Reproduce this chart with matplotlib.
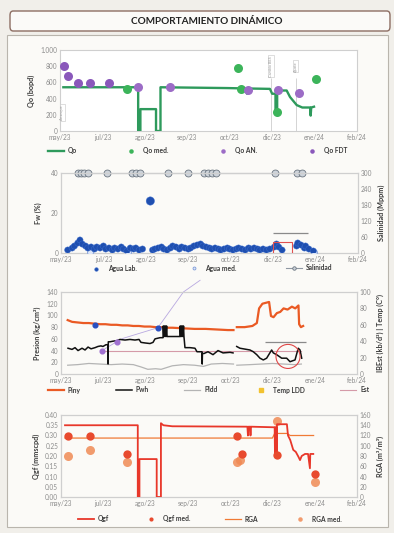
import matplotlib

matplotlib.use("Agg")
import matplotlib.pyplot as plt
from matplotlib.patches import FancyBboxPatch, Rectangle

plt.rcParams["font.family"] = ["Lato", "DejaVu Sans"]

nan = float("nan")

# eje x en dias desde el 28/may/23, una marca cada 38 dias
TICK_DAYS = [0, 38, 76, 114, 152, 190, 228, 266]
TICK_LABELS = ["may/23", "jul/23", "ago/23", "sep/23", "oct/23", "dic/23", "ene/24", "feb/24"]

# --- panel 1: petroleo
QO_DIAS = [3, 70, 70, 72, 72, 86, 86, 90, 90, 150, 167, 167.5, 168, 188, 190, 193, 193,
           194.5, 194.5, 196, 203, 206, 212, 217, 224, 224.5, 225, 227.5]
QO = [540, 540, 0, 0, 270, 270, 0, 0, 540, 530, 525, 460, 525, 520, 460, 460, 240,
      240, 500, 500, 500, 420, 320, 290, 290, 190, 290, 300]
QO_MED_DIAS = [60, 159, 162, 194, 229]
QO_MED = [515, 780, 520, 230, 640]
QO_AN_DIAS = [70, 98.5, 168, 195, 214]
QO_AN = [540, 540, 510, 510, 465]
QO_FDT_DIAS = [3.6, 7.2, 16, 27, 44]
QO_FDT = [800, 680, 590, 590, 590]
EVENTOS_DIAS = [2, 189, 211]
EVENTOS_TXT = ["Arranque", "Cambio BES", "Ajuste"]

# --- panel 2: agua y salinidad
AGUA_LAB_DIAS = [6, 10, 12, 15, 17, 19, 22, 24, 27, 30, 32, 35, 38, 40, 43, 46, 48, 51, 54, 56,
                 59, 62, 65, 67, 70, 73, 80, 82, 84, 87, 90, 92, 95, 98, 100, 103, 106, 108, 111, 114,
                 116, 119, 122, 125, 127, 130, 133, 135, 138, 141, 143, 146, 149, 151, 154, 157, 159,
                 162, 165, 168, 170, 173, 176, 178, 181, 184, 187, 191, 193, 195, 198, 211, 212, 215,
                 218, 219, 222, 226]
AGUA_LAB = [1.5, 2.5, 3.5, 5.0, 6.5, 4.5, 3.5, 2.5, 3.0, 2.0, 3.0, 2.5, 3.5, 2.0, 2.5, 1.5, 2.5, 2.0,
            3.0, 2.0, 1.0, 2.5, 2.0, 2.5, 1.5, 2.0, 26.0, 1.5, 2.0, 2.5, 3.0, 2.0, 1.5, 2.5, 3.5, 3.0,
            2.0, 3.0, 2.5, 2.0, 2.5, 3.5, 4.0, 4.5, 3.5, 3.0, 2.5, 2.0, 2.5, 2.0, 1.5, 2.0, 2.5, 2.0,
            1.5, 2.0, 2.5, 2.0, 1.5, 2.5, 2.0, 2.5, 2.0, 1.5, 2.0, 1.5, 2.0, 3.0, 4.5, 3.0, 1.5, 3.5,
            5.0, 4.0, 2.5, 3.5, 2.0, 1.0]
AGUA_MED_DIAS = [26, 60, 227]
AGUA_MED = [0.5, 0.5, 0.5]
SAL_DIAS = [15, 18, 21, 24, 41, 64, 67, 71, 96, 114, 128, 132, 135, 139, 192, 211, 216]
SAL = [300, 300, 300, 300, 300, 300, 300, 300, 300, 300, 300, 300, 300, 300, 300, 300, 300]

# --- panel 3: presiones
PINY_DIAS = [6, 10, 15, 20, 25, 30, 35, 40, 45, 50, 55, 60, 65, 70, 75, 80, 85, 90, 95, 100,
             110, 120, 130, 140, 150, 155, nan, 158, 165, 172, 176, 178, 181, 185, 187, 188.7, 191,
             194, 197, 200, 203.6, 207.5, 210.5, 213.4, 214, 215.6, 217.6]
PINY = [92, 89, 88, 87, 87, 86, 85, 85, 84, 84, 83, 83, 82, 82, 81, 81, 80, 80, 79, 79,
        78, 77, 77, 76, 75, 75, nan, 80, 80, 82, 87, 112, 120, 122, 123, 99, 97,
        104, 106, 112, 110, 115, 112, 117, 85, 80, 82]
PWH_DIAS = [6.3, 9.9, 12.6, 15.3, 18.9, 21.6, 24.3, 27, 30.6, 33.2, 35.9, 37.7, 40.4, 42.2, 42.3,
            42.5, 44, 46.7, 50.3, 53, 57.5, 62, 66.5, 70.1, 71.9, 75.5, 80, 82.7, 84.5, 89, 91.7,
            91.9, 92.4, 92.9, 93.4, 93.9, 94.4, 94.9, 95.3, 99.7, 103.3, 106.9, 107.1, 107.6, 108.1,
            108.6, 109.1, 109.6, 110.1, 110.5, 111.4, 115.9, 120.4, 122.2, 126.7, 126.9, 127.1,
            128.5, 132.1, 136.6, 141.1, 145.6, 151.9, 154.6, nan, 157.9, 160.8, 169.8, 172.8, 175.9,
            178.8, 181.8, 184.8, 189.3, 190.8, 193.8, 198.3, 202.8, 205.8, 210.3, 213.2, 214.8, 216.3]
PWH = [44, 42, 45, 40, 44, 41, 46, 43, 45, 47, 48, 47, 50, 50, 17, 55, 55, 56, 57, 59,
       58, 59, 58, 59, 54, 53, 52, 54, 60, 62, 62, 82, 64, 82, 64, 82, 64, 82, 64, 64,
       64, 64, 82, 64, 82, 64, 82, 64, 82, 64, 45, 45, 44, 38, 38, 17, 35, 35, 38, 33,
       40, 36, 37, 36, nan, 47, 44, 41, 38, 33, 27, 24, 27, 41, 36, 33, 27, 27, 21, 24,
       44, 41, 27]
PLDD_DIAS = [6, 15, 25, 35, 45, 55, 65, 72, 78, 85, 90, 95, 100, 110, 120, 128, 135, 145, 155, nan,
             158, 170, 180, 190, 200, 210, 216]
PLDD = [15, 16, 18, 17, 16, 17, 16, 12, 8, 9, 8, 11, 14, 16, 15, 13, 17, 18, 17, nan,
        15, 16, 17, 18, 17, 16, 17]
TEMP_DIAS = []
TEMP = []
EST_DIAS = [36, 216]
EST = [28, 28]
GUIA_DIAS = [36.8, 50, 56, 87, 110, 125]
GUIA = [40, 55, 61, 79, 140, 160]
MARCA_AZUL_DIAS = [30.6, 87]
MARCA_AZUL = [84, 79]
MARCA_LILA_DIAS = [36.8, 50]
MARCA_LILA = [40, 55]

# --- panel 4: gas
QGF_DIAS = [3.6, 69, 69, 70.5, 70.5, 86, 86, 89.8, 89.8, 92, 100, 167.5, 168, 168.5, 170, 170.3,
            170.6, 192, 192.3, 192.6, 193.5, 193.8, 194.1, 203, 204, 206, 208.7, 211, 213.3, 214.8,
            216.3, 219.3, 222, 223.7, 224, 226.7]
QGF = [0.35, 0.35, 0.0, 0.0, 0.185, 0.185, 0.0, 0.0, 0.36, 0.35, 0.345, 0.343, 0.30, 0.343, 0.343,
       0.30, 0.343, 0.34, 0.20, 0.34, 0.34, 0.20, 0.355, 0.355, 0.30, 0.278, 0.23, 0.22, 0.197, 0.18,
       0.20, 0.21, 0.21, 0.14, 0.21, 0.21]
RGA_DIAS = [3.6, 190, 192, 203, 206, 227]
RGA = [115, 115, 124, 124, 120, 120]
QGF_MED_DIAS = [6.3, 26, 59.3, 158.2, 162.6, 194.1, 228.2]
QGF_MED = [0.30, 0.30, 0.21, 0.30, 0.21, 0.205, 0.113]
RGA_MED_DIAS = [6.3, 26, 59.3, 158.2, 160.8, 194.1, 228.2]
RGA_MED = [80, 92, 69, 69, 72, 149, 30]

W, H = 394, 533
GRIS = "#8c8c8c"
LABEL_KW = dict(fontsize=5.2, fontweight="bold", color="#3a3a3a")


def caja(left, top, right, bottom):
    return [left / W, (H - bottom) / H, (right - left) / W, (bottom - top) / H]


def estilo(ax, twin=None):
    for a in [ax] + ([twin] if twin is not None else []):
        for s in a.spines.values():
            s.set_color("#cfcfcf")
            s.set_linewidth(0.8)
        a.tick_params(length=0, labelsize=4.7, colors=GRIS, pad=2)
    ax.set_facecolor("white")
    ax.set_xlim(0, 266)
    ax.set_xticks(TICK_DAYS, TICK_LABELS)


def leyenda(fig, axes, orden, y, x0, x1):
    found = {}
    for a in axes:
        h, l = a.get_legend_handles_labels()
        found.update(dict(zip(l, h)))
    fig.legend([found[k] for k in orden], orden, loc="center",
               bbox_to_anchor=(x0 / W, (H - y) / H - 0.01, (x1 - x0) / W, 0.02),
               mode="expand", ncol=len(orden), frameon=False, borderaxespad=0,
               prop={"size": 4.8, "weight": "bold"}, handlelength=2.4, handletextpad=0.6,
               markerscale=0.5, labelcolor="#3a3a3a")


fig = plt.figure(figsize=(W / 100, H / 100), dpi=100)
fig.patch.set_facecolor("#f1efea")
fig.patches.append(Rectangle((7 / W, 6 / H), 381 / W, 492 / H, transform=fig.transFigure,
                             facecolor="#fbfaf7", edgecolor="#b9b5ad", linewidth=0.8, zorder=-5))
fig.patches.append(FancyBboxPatch((10 / W, (H - 31) / H), 380 / W, 20 / H,
                                  boxstyle="round,pad=0,rounding_size=0.008",
                                  transform=fig.transFigure, facecolor="#fbfaf8",
                                  edgecolor="#8d6e63", linewidth=1.0, zorder=-5))
fig.text(207 / W, (H - 21) / H, "COMPORTAMIENTO DINÁMICO", ha="center", va="center",
         fontsize=7.2, fontweight="bold", color="#222222")

# panel 1
ax1 = fig.add_axes(caja(60, 50, 357, 131))
estilo(ax1)
ax1.plot(QO_DIAS, QO, color="#2e9a5c", lw=1.7, label="Qo", zorder=3)
ax1.plot(QO_MED_DIAS, QO_MED, "o", color="#3cb45a", ms=6.5, mec="none", label="Qo med.", zorder=4)
ax1.plot(QO_AN_DIAS, QO_AN, "o", color="#9c6cc6", ms=6.5, mec="none", label="Qo AN.", zorder=4)
ax1.plot(QO_FDT_DIAS, QO_FDT, "o", color="#8a58bb", ms=6.5, mec="none", label="Qo FDT", zorder=4)
for d, txt in zip(EVENTOS_DIAS, EVENTOS_TXT):
    y_txt = 230 if d < 20 else 800
    ax1.text(d, y_txt, txt, rotation=90, fontsize=2.8, color="#9a9a9a", ha="center", va="center",
             bbox=dict(fc="white", ec="#c4c4c4", lw=0.4, pad=0.5), zorder=5)
    if d > 20:
        ax1.vlines(d, 0, 660, color="#c4c4c4", lw=0.5, zorder=1)
ax1.set_ylim(0, 1000)
ax1.set_yticks([0, 200, 400, 600, 800, 1000], ["0", "200", "400", "600", "800", "1.000"])
ax1.set_ylabel("Qo (bopd)", labelpad=4, **LABEL_KW)
leyenda(fig, [ax1], ["Qo", "Qo med.", "Qo AN.", "Qo FDT"], 151, 45, 350)

# panel 2
ax2 = fig.add_axes(caja(61, 173, 358, 253))
ax2b = ax2.twinx()
estilo(ax2, ax2b)
sizes = [36 if v > 10 else 20 for v in AGUA_LAB]
ax2.scatter(AGUA_LAB_DIAS, AGUA_LAB, s=sizes, color="#1f4fb0", edgecolor="#3d6fd0", lw=0.3,
            label="Agua Lab.", zorder=4)
ax2.plot(AGUA_MED_DIAS, AGUA_MED, "o", color="#dde6f7", mec="#7d9bd8", mew=0.6, ms=4.2,
         label="Agua med.", zorder=3)
ax2b.plot(SAL_DIAS, SAL, "-o", color="#8f98a2", mfc="#cdd3da", mec="#6b7580", mew=0.6, ms=5,
          lw=0.8, label="Salinidad", clip_on=False, zorder=4)
ax2.add_patch(Rectangle((190, -0.8), 17, 6.3, fill=False, ec="#e05050", lw=0.8, zorder=5))
ax2.hlines(10, 190, 221, color="#8a8a8a", lw=0.9)
ax2.set_ylim(0, 40)
ax2.set_yticks([0, 20, 40])
ax2b.set_ylim(0, 300)
ax2b.set_yticks([0, 60, 120, 180, 240, 300])
ax2.set_ylabel("Fw (%)", labelpad=6, **LABEL_KW)
ax2b.set_ylabel("Salinidad (Mppm)", labelpad=4, **LABEL_KW)
ax2.set_zorder(ax2b.get_zorder() + 1)
ax2.patch.set_visible(False)
ax2b.set_facecolor("white")
leyenda(fig, [ax2, ax2b], ["Agua Lab.", "Agua med.", "Salinidad"], 268, 85, 335)

# panel 3
ax3 = fig.add_axes(caja(61, 292, 357, 374))
ax3b = ax3.twinx()
estilo(ax3, ax3b)
ax3.plot(GUIA_DIAS, GUIA, color="#b8a8e0", lw=0.6, clip_on=False, zorder=2)
ax3.plot(PLDD_DIAS, PLDD, color="#b4b4b4", lw=0.9, label="Pldd", zorder=2)
ax3b.plot(EST_DIAS, EST, color="#d59aa8", lw=0.8, label="Est", zorder=2)
ax3b.plot(TEMP_DIAS, TEMP, "s", color="#f2c230", ms=5, label="Temp LDD")
ax3.plot(PINY_DIAS, PINY, color="#ea5a24", lw=1.6, label="Piny", zorder=3)
ax3.plot(PWH_DIAS, PWH, color="#111111", lw=1.1, label="Pwh", zorder=3)
ax3.plot(MARCA_AZUL_DIAS, MARCA_AZUL, "o", color="#2a4fc0", ms=3.4, zorder=4)
ax3.plot(MARCA_LILA_DIAS, MARCA_LILA, "o", color="#a070d0", ms=3.4, zorder=4)
ax3.scatter([204], [30], s=300, facecolor="none", edgecolor="#e04848", lw=0.8, zorder=5)
ax3.hlines(55, 183, 220, color="#8a8a8a", lw=0.9)
ax3.set_ylim(0, 140)
ax3.set_yticks(range(0, 141, 20))
ax3b.set_ylim(0, 100)
ax3b.set_yticks(range(0, 101, 20))
ax3.set_ylabel("Presion (kg/cm²)", labelpad=4, **LABEL_KW)
ax3b.set_ylabel("IBEst (kb/d²) | Temp (C°)", labelpad=4, **LABEL_KW)
ax3.set_zorder(ax3b.get_zorder() + 1)
ax3.patch.set_visible(False)
ax3b.set_facecolor("white")
leyenda(fig, [ax3, ax3b], ["Piny", "Pwh", "Pldd", "Temp LDD", "Est"], 390, 45, 372)

# panel 4
ax4 = fig.add_axes(caja(61, 415, 357, 497))
ax4b = ax4.twinx()
estilo(ax4, ax4b)
ax4b.plot(RGA_MED_DIAS, RGA_MED, "o", color="#f08a55", alpha=0.85, ms=6.5, mec="none",
          label="RGA med.", zorder=2)
ax4b.plot(RGA_DIAS, RGA, color="#f07a35", lw=0.9, label="RGA", zorder=3)
ax4.plot(QGF_DIAS, QGF, color="#e8372a", lw=1.3, label="Qgf", zorder=3)
ax4.plot(QGF_MED_DIAS, QGF_MED, "o", color="#e84a2e", ms=6, mec="none", label="Qgf med.", zorder=4)
ax4.set_ylim(0, 0.4)
ax4.set_yticks([0.0, 0.05, 0.10, 0.15, 0.20, 0.25, 0.30, 0.35, 0.40])
ax4.yaxis.set_major_formatter(lambda v, p: f"{v:.2f}")
ax4b.set_ylim(0, 160)
ax4b.set_yticks(range(0, 161, 20))
ax4.set_ylabel("Qgf (mmscpd)", labelpad=4, **LABEL_KW)
ax4b.set_ylabel("RGA (m³/m³)", labelpad=4, **LABEL_KW)
ax4.set_zorder(ax4b.get_zorder() + 1)
ax4.patch.set_visible(False)
ax4b.set_facecolor("white")
leyenda(fig, [ax4, ax4b], ["Qgf", "Qgf med.", "RGA", "RGA med."], 519, 75, 345)

fig.savefig("out.png", dpi=100, facecolor=fig.get_facecolor())
